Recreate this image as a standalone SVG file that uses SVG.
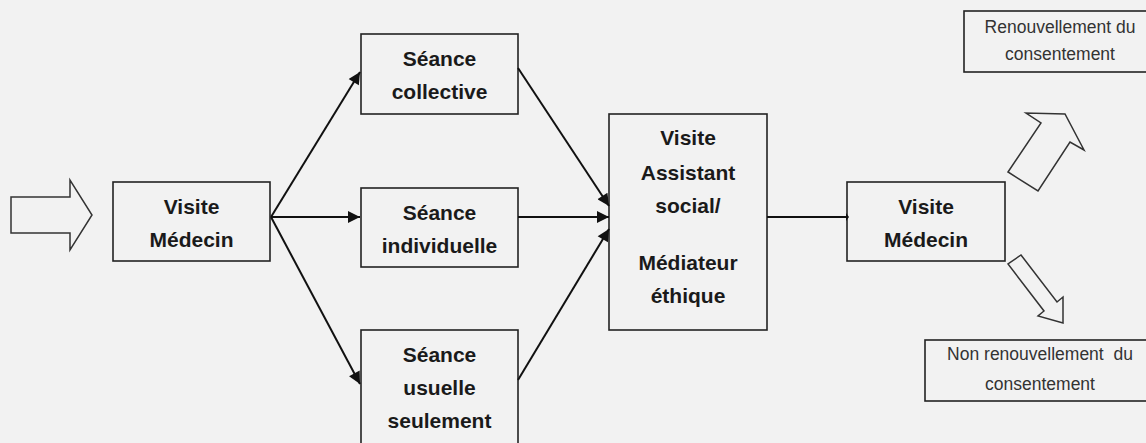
<svg xmlns="http://www.w3.org/2000/svg" width="1146" height="443" viewBox="0 0 1146 443">
  <style>
    .box { fill: #f2f2f2; stroke: #222; stroke-width: 1.6; }
    .tb { font-family: "Liberation Sans", Arial, sans-serif; font-weight: bold; font-size: 21px; fill: #1a1a1a; text-anchor: middle; }
    .tr { font-family: "Liberation Sans", Arial, sans-serif; font-size: 17.5px; fill: #333; text-anchor: middle; white-space: pre; }
    .conn { stroke: #111; stroke-width: 2; fill: none; marker-end: url(#ah); }
    .fat { fill: #f2f2f2; stroke: #333; stroke-width: 1.5; stroke-linejoin: miter; }
  </style>
  <defs>
    <marker id="ah" viewBox="0 0 10 10" refX="10" refY="5" markerWidth="7" markerHeight="6" markerUnits="strokeWidth" orient="auto">
      <path d="M0,0 L10,5 L0,10 z" fill="#111"/>
    </marker>
  </defs>
  <rect x="0" y="0" width="1146" height="443" fill="#f2f2f2"/>

  <g id="input-arrow">
    <polygon class="fat" points="11,197 70,197 70,180 92,215 70,250 70,233 11,233"/>
  </g>

  <g id="visite-medecin-1">
    <rect class="box" x="113" y="182" width="157" height="79"/>
    <text class="tb" x="191.5" y="214">Visite</text>
    <text class="tb" x="191.5" y="247">Médecin</text>
  </g>

  <g id="seance-collective">
    <rect class="box" x="361" y="34" width="157" height="80"/>
    <text class="tb" x="439.5" y="66">Séance</text>
    <text class="tb" x="439.5" y="99">collective</text>
  </g>

  <g id="seance-individuelle">
    <rect class="box" x="361" y="188" width="157" height="79"/>
    <text class="tb" x="439.5" y="220">Séance</text>
    <text class="tb" x="439.5" y="253">individuelle</text>
  </g>

  <g id="seance-usuelle">
    <rect class="box" x="361" y="330" width="157" height="130"/>
    <text class="tb" x="439.5" y="362">Séance</text>
    <text class="tb" x="439.5" y="395">usuelle</text>
    <text class="tb" x="439.5" y="428">seulement</text>
  </g>

  <g id="visite-assistant">
    <rect class="box" x="609" y="114" width="158" height="216"/>
    <text class="tb" x="688" y="145">Visite</text>
    <text class="tb" x="688" y="180">Assistant</text>
    <text class="tb" x="688" y="213">social/</text>
    <text class="tb" x="688" y="270">Médiateur</text>
    <text class="tb" x="688" y="303">éthique</text>
  </g>

  <g id="visite-medecin-2">
    <rect class="box" x="847" y="182" width="158" height="79"/>
    <text class="tb" x="926" y="214">Visite</text>
    <text class="tb" x="926" y="247">Médecin</text>
  </g>

  <g id="renouvellement">
    <rect class="box" x="964" y="11" width="200" height="61"/>
    <text class="tr" x="1060" y="33">Renouvellement du</text>
    <text class="tr" x="1060" y="60">consentement</text>
  </g>

  <g id="non-renouvellement">
    <rect class="box" x="925" y="340" width="240" height="61"/>
    <text class="tr" x="1040" y="360">Non renouvellement  du</text>
    <text class="tr" x="1040" y="390">consentement</text>
  </g>

  <g id="arrow-up">
    <polygon class="fat" points="1008,172 1041,123 1026,113 1065,114 1084,150 1070,142 1038,191"/>
  </g>

  <g id="arrow-down">
    <polygon class="fat" points="1021,255 1057,302 1063,297 1063,323 1038,316 1044,311 1008,264"/>
  </g>

  <g id="connectors">
    <line class="conn" x1="271" y1="217" x2="360" y2="72"/>
    <line class="conn" x1="271" y1="217" x2="360" y2="217"/>
    <line class="conn" x1="271" y1="217" x2="360" y2="384"/>
    <line class="conn" x1="518" y1="68" x2="609" y2="206"/>
    <line class="conn" x1="518" y1="217" x2="609" y2="217"/>
    <line class="conn" x1="518" y1="380" x2="609" y2="229"/>
    <line x1="767" y1="217" x2="846" y2="217" stroke="#111" stroke-width="2"/>
    <path d="M846,213 L846,221 L849,217 z" fill="#111"/>
  </g>
</svg>
